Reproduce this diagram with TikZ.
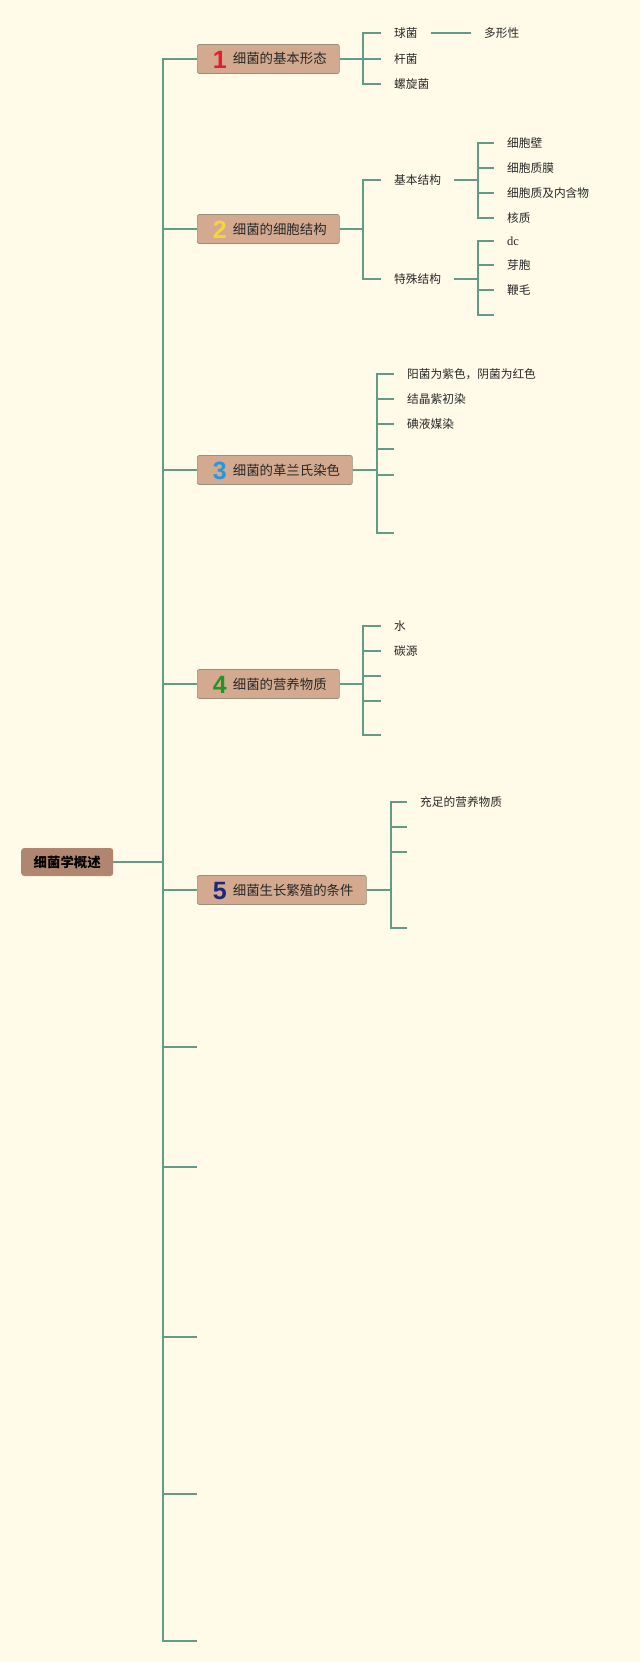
\documentclass[tikz,border=0pt]{standalone}
\usepackage{fontspec}
\newfontfamily\cjk{Noto Sans CJK SC}
\newfontfamily\numfont{Liberation Sans}
\newfontfamily\serifdc{Liberation Serif}
\definecolor{bgC}{RGB}{255,251,232}
\definecolor{lineC}{RGB}{98,156,134}
\definecolor{boxF}{RGB}{211,170,143}
\definecolor{boxB}{RGB}{150,145,125}
\definecolor{rootF}{RGB}{176,134,112}
\definecolor{txt}{RGB}{40,40,40}
\definecolor{nRed}{RGB}{228,30,50}
\definecolor{nYel}{RGB}{245,212,60}
\definecolor{nBlue}{RGB}{40,150,220}
\definecolor{nGreen}{RGB}{30,150,40}
\definecolor{nNavy}{RGB}{30,40,120}
% #1 box width, #2 colour, #3 digit, #4 text
\newcommand\mmTopic[4]{\makebox[#1][l]{\hspace{15.5pt}\makebox[14pt][c]{\smash{\raisebox{-9.2pt}{\color{#2}\numfont\bfseries\fontsize{25}{25}\selectfont #3}}}\hspace{6pt}\smash{\raisebox{-5pt}{#4}}}}
\tikzset{
  conn/.style={draw=lineC, line width=2pt},
  topic/.style={draw=boxB, fill=boxF, rounded corners=2pt, line width=0.7pt,
    minimum height=29pt, inner xsep=0pt, inner ysep=0pt, anchor=west, text=txt,
    font=\cjk\fontsize{13.4}{16}\selectfont},
  rootbox/.style={fill=rootF, rounded corners=3pt, minimum height=28pt,
    minimum width=92pt, inner sep=0pt, anchor=west, text=black,
    font=\cjk\bfseries\fontsize{13.4}{16}\selectfont},
  leaf/.style={anchor=west, inner xsep=13pt, inner ysep=2pt, text=txt,
    font=\cjk\fontsize{11.7}{14}\selectfont},
}
\begin{document}
\begin{tikzpicture}[x=1pt,y=-1pt]
\useasboundingbox (0,0) rectangle (640,1662);
\fill[bgC] (0,0) rectangle (640,1662);
% junction coordinates
\coordinate (jm) at (163,0);
\coordinate (j1) at (363,0);
\coordinate (j2) at (363,0);
\coordinate (j2a) at (478,0);
\coordinate (j3) at (377,0);
\coordinate (j4) at (363,0);
\coordinate (j5) at (391,0);
% root and topics
\node[rootbox] (root) at (21,862) {细菌学概述};
\node[topic] (b1) at (197,59) {\mmTopic{142pt}{nRed}{1}{细菌的基本形态}};
\node[topic] (b2) at (197,229) {\mmTopic{142pt}{nYel}{2}{细菌的细胞结构}};
\node[topic] (b3) at (197,470) {\mmTopic{155pt}{nBlue}{3}{细菌的革兰氏染色}};
\node[topic] (b4) at (197,684) {\mmTopic{142pt}{nGreen}{4}{细菌的营养物质}};
\node[topic] (b5) at (197,890) {\mmTopic{169pt}{nNavy}{5}{细菌生长繁殖的条件}};
% empty main stubs
\coordinate (e1) at (197,1047);
\coordinate (e2) at (197,1167);
\coordinate (e3) at (197,1337);
\coordinate (e4) at (197,1494);
\coordinate (e5) at (197,1641);
% topic 1 leaves
\node[leaf] (c11) at (381,33) {球菌};
\node[leaf] (c12) at (381,59) {杆菌};
\node[leaf] (c13) at (381,84) {螺旋菌};
\node[leaf] (c111) at (471,33) {多形性};
% topic 2 leaves
\node[leaf] (c21) at (381,180) {基本结构};
\node[leaf] (c22) at (381,279) {特殊结构};
\node[leaf] (c211) at (494,143) {细胞壁};
\node[leaf] (c212) at (494,168) {细胞质膜};
\node[leaf] (c213) at (494,193) {细胞质及内含物};
\node[leaf] (c214) at (494,218) {核质};
\node[leaf, font=\serifdc\fontsize{12.5}{14}\selectfont] (c221) at (494,241) {dc};
\node[leaf] (c222) at (494,265) {芽胞};
\node[leaf] (c223) at (494,290) {鞭毛};
\coordinate (c224) at (494,315);
% topic 3 leaves
\node[leaf] (c31) at (394,374) {阳菌为紫色，阴菌为红色};
\node[leaf] (c32) at (394,399) {结晶紫初染};
\node[leaf] (c33) at (394,424) {碘液媒染};
\coordinate (c34) at (394,449);
\coordinate (c35) at (394,475);
\coordinate (c36) at (394,533);
% topic 4 leaves
\node[leaf] (c41) at (381,626) {水};
\node[leaf] (c42) at (381,651) {碳源};
\coordinate (c43) at (381,676);
\coordinate (c44) at (381,701);
\coordinate (c45) at (381,735);
% topic 5 leaves
\node[leaf] (c51) at (407,802) {充足的营养物质};
\coordinate (c52) at (407,827);
\coordinate (c53) at (407,852);
\coordinate (c54) at (407,928);
% connectors: root
\foreach \t in {b1,b2,b3,b4,b5}
  \draw[conn] (root.east) -- (root.east -| jm) |- (\t.west);
\foreach \t in {e1,e2,e3,e4,e5}
  \draw[conn] (root.east) -- (root.east -| jm) |- (\t);
% topic 1
\foreach \t in {c11,c12,c13}
  \draw[conn] (b1.east) -- (b1.east -| j1) |- (\t.west);
\draw[conn] (c11.east) -- (c111.west);
% topic 2
\foreach \t in {c21,c22}
  \draw[conn] (b2.east) -- (b2.east -| j2) |- (\t.west);
\foreach \t in {c211,c212,c213,c214}
  \draw[conn] (c21.east) -- (c21.east -| j2a) |- (\t.west);
\foreach \t in {c221,c222,c223}
  \draw[conn] (c22.east) -- (c22.east -| j2a) |- (\t.west);
\draw[conn] (c22.east) -- (c22.east -| j2a) |- (c224);
% topic 3
\foreach \t in {c31,c32,c33}
  \draw[conn] (b3.east) -- (b3.east -| j3) |- (\t.west);
\foreach \t in {c34,c35,c36}
  \draw[conn] (b3.east) -- (b3.east -| j3) |- (\t);
% topic 4
\foreach \t in {c41,c42}
  \draw[conn] (b4.east) -- (b4.east -| j4) |- (\t.west);
\foreach \t in {c43,c44,c45}
  \draw[conn] (b4.east) -- (b4.east -| j4) |- (\t);
% topic 5
\draw[conn] (b5.east) -- (b5.east -| j5) |- (c51.west);
\foreach \t in {c52,c53,c54}
  \draw[conn] (b5.east) -- (b5.east -| j5) |- (\t);
\end{tikzpicture}
\end{document}
